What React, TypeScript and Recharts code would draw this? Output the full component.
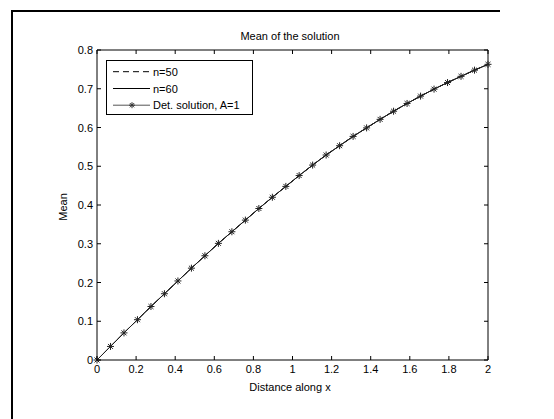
import React from 'react';
import { LineChart, Line, XAxis, YAxis, Legend } from 'recharts';

// distance along x (marker positions of the deterministic solution)
const distance = [
  0, 0.069, 0.138, 0.207, 0.276, 0.345, 0.414, 0.483, 0.552, 0.621,
  0.69, 0.759, 0.828, 0.897, 0.966, 1.034, 1.103, 1.172, 1.241, 1.31,
  1.379, 1.448, 1.517, 1.586, 1.655, 1.724, 1.793, 1.862, 1.931, 2,
];

const meanN50 = [
  0, 0.035, 0.07, 0.104, 0.138, 0.171, 0.204, 0.237, 0.269, 0.301,
  0.331, 0.361, 0.391, 0.42, 0.448, 0.476, 0.503, 0.529, 0.553, 0.577,
  0.599, 0.621, 0.642, 0.662, 0.681, 0.699, 0.716, 0.732, 0.748, 0.763,
];

const meanN60 = [
  0, 0.035, 0.07, 0.104, 0.138, 0.171, 0.204, 0.237, 0.269, 0.301,
  0.331, 0.361, 0.391, 0.42, 0.448, 0.476, 0.503, 0.529, 0.553, 0.577,
  0.599, 0.621, 0.642, 0.662, 0.681, 0.699, 0.716, 0.732, 0.748, 0.763,
];

const meanDet = [
  0, 0.035, 0.07, 0.104, 0.138, 0.171, 0.204, 0.237, 0.269, 0.301,
  0.331, 0.361, 0.391, 0.42, 0.448, 0.476, 0.503, 0.529, 0.553, 0.577,
  0.599, 0.621, 0.642, 0.662, 0.681, 0.699, 0.716, 0.732, 0.748, 0.763,
];

const seriesNames = ['n=50', 'n=60', 'Det. solution, A=1'];
const xTicks = [0, 0.2, 0.4, 0.6, 0.8, 1, 1.2, 1.4, 1.6, 1.8, 2];
const yTicks = [0, 0.1, 0.2, 0.3, 0.4, 0.5, 0.6, 0.7, 0.8];

const data = distance.map((x, i) => ({
  x,
  n50: meanN50[i],
  n60: meanN60[i],
  det: meanDet[i],
}));

const FONT = 'Arial, "Liberation Sans", Helvetica, sans-serif';
const TICK = 4;

const BottomTick = (props: any) => {
  const { x, y, payload } = props;
  return (
    <g>
      <line x1={x} x2={x} y1={y} y2={y - TICK} stroke="#000" />
      <text x={x} y={y + 13} textAnchor="middle" fontSize={11} fontFamily={FONT} fill="#000">
        {String(payload.value)}
      </text>
    </g>
  );
};

const LeftTick = (props: any) => {
  const { x, y, payload } = props;
  return (
    <g>
      <line x1={x} x2={x + TICK} y1={y} y2={y} stroke="#000" />
      <text x={x - 4} y={y + 4} textAnchor="end" fontSize={11} fontFamily={FONT} fill="#000">
        {String(payload.value)}
      </text>
    </g>
  );
};

const TopTick = (props: any) => {
  const { x, y } = props;
  return <line x1={x} x2={x} y1={y} y2={y + TICK} stroke="#000" />;
};

const RightTick = (props: any) => {
  const { x, y } = props;
  return <line x1={x} x2={x - TICK} y1={y} y2={y} stroke="#000" />;
};

const Star = ({ cx, cy, r = 3.5, color = '#222' }: any) => {
  if (cx == null || cy == null) return null;
  const d = r * 0.7071;
  return (
    <g stroke={color} strokeWidth={1}>
      <line x1={cx - r} y1={cy} x2={cx + r} y2={cy} />
      <line x1={cx} y1={cy - r} x2={cx} y2={cy + r} />
      <line x1={cx - d} y1={cy - d} x2={cx + d} y2={cy + d} />
      <line x1={cx - d} y1={cy + d} x2={cx + d} y2={cy - d} />
    </g>
  );
};

const renderLegend = () => {
  const rows = [10.7, 27.5, 44.2];
  return (
    <div style={{ width: 145, height: 53, border: '1px solid #000', background: '#fff' }}>
      <svg width={145} height={53} style={{ display: 'block' }}>
        {seriesNames.map((name, i) => {
          const y = rows[i];
          return (
            <g key={name}>
              <line
                x1={6}
                x2={i === 0 ? 42 : 43}
                y1={y}
                y2={y}
                stroke={i === 2 ? '#555' : '#000'}
                strokeDasharray={i === 0 ? '6 4' : undefined}
              />
              {i === 2 && <Star cx={25} cy={y} r={3} color="#333" />}
              <text x={46} y={y + 4} fontSize={11} fontFamily={FONT} fill="#000">
                {name}
              </text>
            </g>
          );
        })}
      </svg>
    </div>
  );
};

export default function App() {
  return (
    <div
      style={{
        position: 'fixed',
        left: 0,
        top: 0,
        width: 554,
        height: 419,
        background: '#fff',
        overflow: 'hidden',
      }}
    >
      <style>{'html, body { margin: 0; overflow: hidden; background: #fff; }'}</style>
      <LineChart
        width={554}
        height={419}
        data={data}
        margin={{ top: 49, right: 65, bottom: 29, left: 57 }}
      >
        <XAxis
          dataKey="x"
          type="number"
          domain={[0, 2]}
          ticks={xTicks}
          interval={0}
          height={30}
          tickSize={0}
          tickMargin={0}
          axisLine={{ stroke: '#000' }}
          tickLine={false}
          tick={<BottomTick />}
        />
        <XAxis
          xAxisId="top"
          orientation="top"
          dataKey="x"
          type="number"
          domain={[0, 2]}
          ticks={xTicks}
          interval={0}
          height={1}
          tickSize={0}
          tickMargin={0}
          axisLine={{ stroke: '#000' }}
          tickLine={false}
          tick={<TopTick />}
        />
        <YAxis
          type="number"
          domain={[0, 0.8]}
          ticks={yTicks}
          interval={0}
          width={40}
          tickSize={0}
          tickMargin={0}
          axisLine={{ stroke: '#000' }}
          tickLine={false}
          tick={<LeftTick />}
        />
        <YAxis
          yAxisId="right"
          orientation="right"
          type="number"
          domain={[0, 0.8]}
          ticks={yTicks}
          interval={0}
          width={1}
          tickSize={0}
          tickMargin={0}
          axisLine={{ stroke: '#000' }}
          tickLine={false}
          tick={<RightTick />}
        />
        <Legend
          layout="horizontal"
          verticalAlign="middle"
          align="center"
          wrapperStyle={{ left: 106, top: 60, width: 147, height: 55 }}
          content={renderLegend}
        />
        {/* n=50 is bound to the top/right axes (same domains) so they draw the box */}
        <Line
          name={seriesNames[0]}
          dataKey="n50"
          xAxisId="top"
          yAxisId="right"
          stroke="#000"
          strokeWidth={1}
          strokeDasharray="6 4"
          dot={false}
          activeDot={false}
          isAnimationActive={false}
        />
        <Line
          name={seriesNames[1]}
          dataKey="n60"
          stroke="#000"
          strokeWidth={1}
          dot={false}
          activeDot={false}
          isAnimationActive={false}
        />
        <Line
          name={seriesNames[2]}
          dataKey="det"
          stroke="#222"
          strokeWidth={1}
          dot={(p: any) => <Star key={`star-${p.index}`} cx={p.cx} cy={p.cy} />}
          activeDot={false}
          isAnimationActive={false}
        />
        <text x={290} y={40} textAnchor="middle" fontSize={11} fontFamily={FONT} fill="#000">
          Mean of the solution
        </text>
        <text x={290} y={391} textAnchor="middle" fontSize={11} fontFamily={FONT} fill="#000">
          Distance along x
        </text>
        <text
          x={67}
          y={207}
          textAnchor="middle"
          fontSize={11}
          fontFamily={FONT}
          fill="#000"
          transform="rotate(-90 67 207)"
        >
          Mean
        </text>
        <line x1={11} y1={11} x2={500} y2={11} stroke="#000" strokeWidth={2} />
        <line x1={12} y1={10} x2={12} y2={419} stroke="#000" strokeWidth={2} />
      </LineChart>
    </div>
  );
}
